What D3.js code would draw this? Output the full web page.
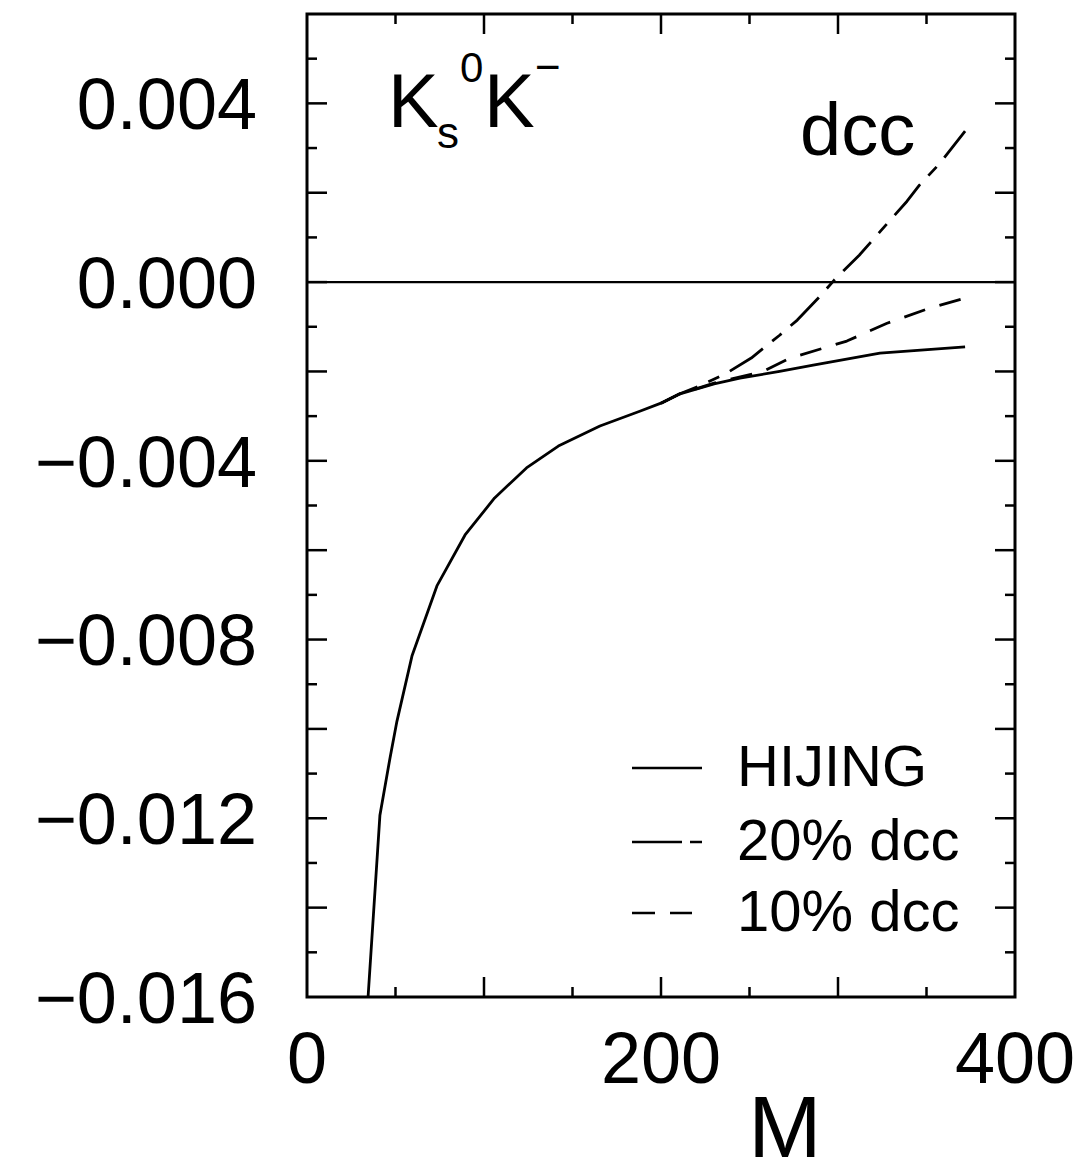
<!DOCTYPE html>
<html><head><meta charset="utf-8">
<script src="https://cdn.jsdelivr.net/npm/d3@7"></script>
<style>
html,body{margin:0;padding:0;background:#fff;}
text{font-family:"Liberation Sans",Arial,Helvetica,sans-serif;fill:#000;}
</style></head>
<body>
<svg id="chart" width="1082" height="1176"></svg>
<script>
// ---- data ----
const hijingM = [34.5, 41.2, 46.9, 50.8, 59.3, 73.4, 89.3, 106, 124, 142, 165.5, 188, 200, 210.7, 230, 244.6, 267, 286, 323.7, 371.8];
const hijingV = [-0.0160, -0.01193, -0.01065, -0.00983, -0.00837, -0.0068, -0.00566, -0.00483, -0.00416, -0.00367, -0.00322, -0.00289, -0.00271, -0.00250, -0.00228, -0.00215, -0.00200, -0.00186, -0.00159, -0.00145];

const dcc20M = [200, 210.7, 222, 237, 251, 267, 277, 290, 298, 312, 324, 339, 346, 357.6, 371.8];
const dcc20V = [-0.00271, -0.00250, -0.00232, -0.00204, -0.0017, -0.00119, -0.00085, -0.00031, 0.00005, 0.0006, 0.00114, 0.00181, 0.00217, 0.00266, 0.00338];

const dcc10M = [200, 210.7, 230, 257.6, 273, 305, 327.7, 352, 371.8];
const dcc10V = [-0.00271, -0.00250, -0.00226, -0.0020, -0.0017, -0.00132, -0.00092, -0.00058, -0.00036];

const xTickLabels = [0, 200, 400];
const yTickLabels = [-0.016, -0.012, -0.008, -0.004, 0.000, 0.004];
const legendLabels = ["HIJING", "20% dcc", "10% dcc"];

// ---- layout ----
const svg = d3.select("#chart");
const L = 307, T = 14, W = 708, H = 983;
const x = d3.scaleLinear().domain([0, 400]).range([L, L + W]);
const y = d3.scaleLinear().domain([-0.016, 0.006]).range([T + H, T]);

const g = svg.append("g");

// ticks (inward, all four sides)
const xMinor = d3.range(50, 400, 50);
const yMinor = d3.range(-15, 6, 1).map(d => d / 1000);
const tickG = g.append("g").attr("stroke", "#000").attr("stroke-width", 2.5);
xMinor.forEach(v => {
  const len = (v % 100 === 0) ? 20 : 10;
  tickG.append("line").attr("x1", x(v)).attr("x2", x(v)).attr("y1", T + H).attr("y2", T + H - len);
  tickG.append("line").attr("x1", x(v)).attr("x2", x(v)).attr("y1", T).attr("y2", T + len);
});
yMinor.forEach(v => {
  const k = Math.round(v * 1000);
  const len = (k % 2 === 0) ? 20 : 10;
  tickG.append("line").attr("y1", y(v)).attr("y2", y(v)).attr("x1", L).attr("x2", L + len);
  tickG.append("line").attr("y1", y(v)).attr("y2", y(v)).attr("x1", L + W).attr("x2", L + W - len);
});

// zero line
g.append("line").attr("x1", x(0)).attr("x2", x(400)).attr("y1", y(0)).attr("y2", y(0))
  .attr("stroke", "#000").attr("stroke-width", 2.4);

// frame
g.append("rect").attr("x", L).attr("y", T).attr("width", W).attr("height", H)
  .attr("fill", "none").attr("stroke", "#000").attr("stroke-width", 3);

// tick labels
const fmt = d3.format(".3f");
g.selectAll(".ylab").data(yTickLabels).join("text")
  .attr("x", 257).attr("y", d => y(d)).attr("dy", "0.36em")
  .attr("text-anchor", "end").attr("font-size", 72)
  .text(d => fmt(d));
g.selectAll(".xlab").data(xTickLabels).join("text")
  .attr("x", d => x(d)).attr("y", 1083)
  .attr("text-anchor", "middle").attr("font-size", 72)
  .text(d => d);

// axis title
g.append("text").attr("x", 785).attr("y", 1157).attr("text-anchor", "middle")
  .attr("font-size", 88).text("M");

// curves
const line = d3.line().x(d => x(d[0])).y(d => y(d[1])).curve(d3.curveLinear);
const series = [
  {m: hijingM, v: hijingV, dash: null},
  {m: dcc20M, v: dcc20V, dash: "40,12,12,12"},
  {m: dcc10M, v: dcc10V, dash: "22,15"}
];
const clipId = "plotclip";
svg.append("defs").append("clipPath").attr("id", clipId)
  .append("rect").attr("x", L).attr("y", T).attr("width", W).attr("height", H);
series.forEach(s => {
  g.append("path").datum(s.m.map((m, i) => [m, s.v[i]]))
    .attr("d", line).attr("fill", "none").attr("stroke", "#000")
    .attr("stroke-width", 2.8).attr("stroke-linejoin", "round")
    .attr("stroke-dasharray", s.dash)
    .attr("clip-path", `url(#${clipId})`);
});

// annotations
g.append("text").attr("x", 388).attr("y", 127).attr("font-size", 76).text("K");
g.append("text").attr("x", 437).attr("y", 148).attr("font-size", 44).text("s");
g.append("text").attr("x", 460).attr("y", 82).attr("font-size", 42).text("0");
g.append("text").attr("x", 484).attr("y", 127).attr("font-size", 76).text("K");
g.append("text").attr("x", 535).attr("y", 82).attr("font-size", 44).text("\u2212");
g.append("text").attr("x", 800).attr("y", 155).attr("font-size", 74).text("dcc");

// legend
const legY = [768, 842, 913];
const legG = g.append("g");
series.forEach((s, i) => {
  legG.append("line").attr("x1", 632).attr("x2", 702).attr("y1", legY[i]).attr("y2", legY[i])
    .attr("stroke", "#000").attr("stroke-width", 2.6)
    .attr("stroke-dasharray", i === 1 ? "50,8,12,50" : (i === 2 ? "23,15,22,20" : null));
  legG.append("text").attr("x", 737).attr("y", legY[i] + 18).attr("font-size", 58)
    .text(legendLabels[i]);
});
</script>
</body></html>
